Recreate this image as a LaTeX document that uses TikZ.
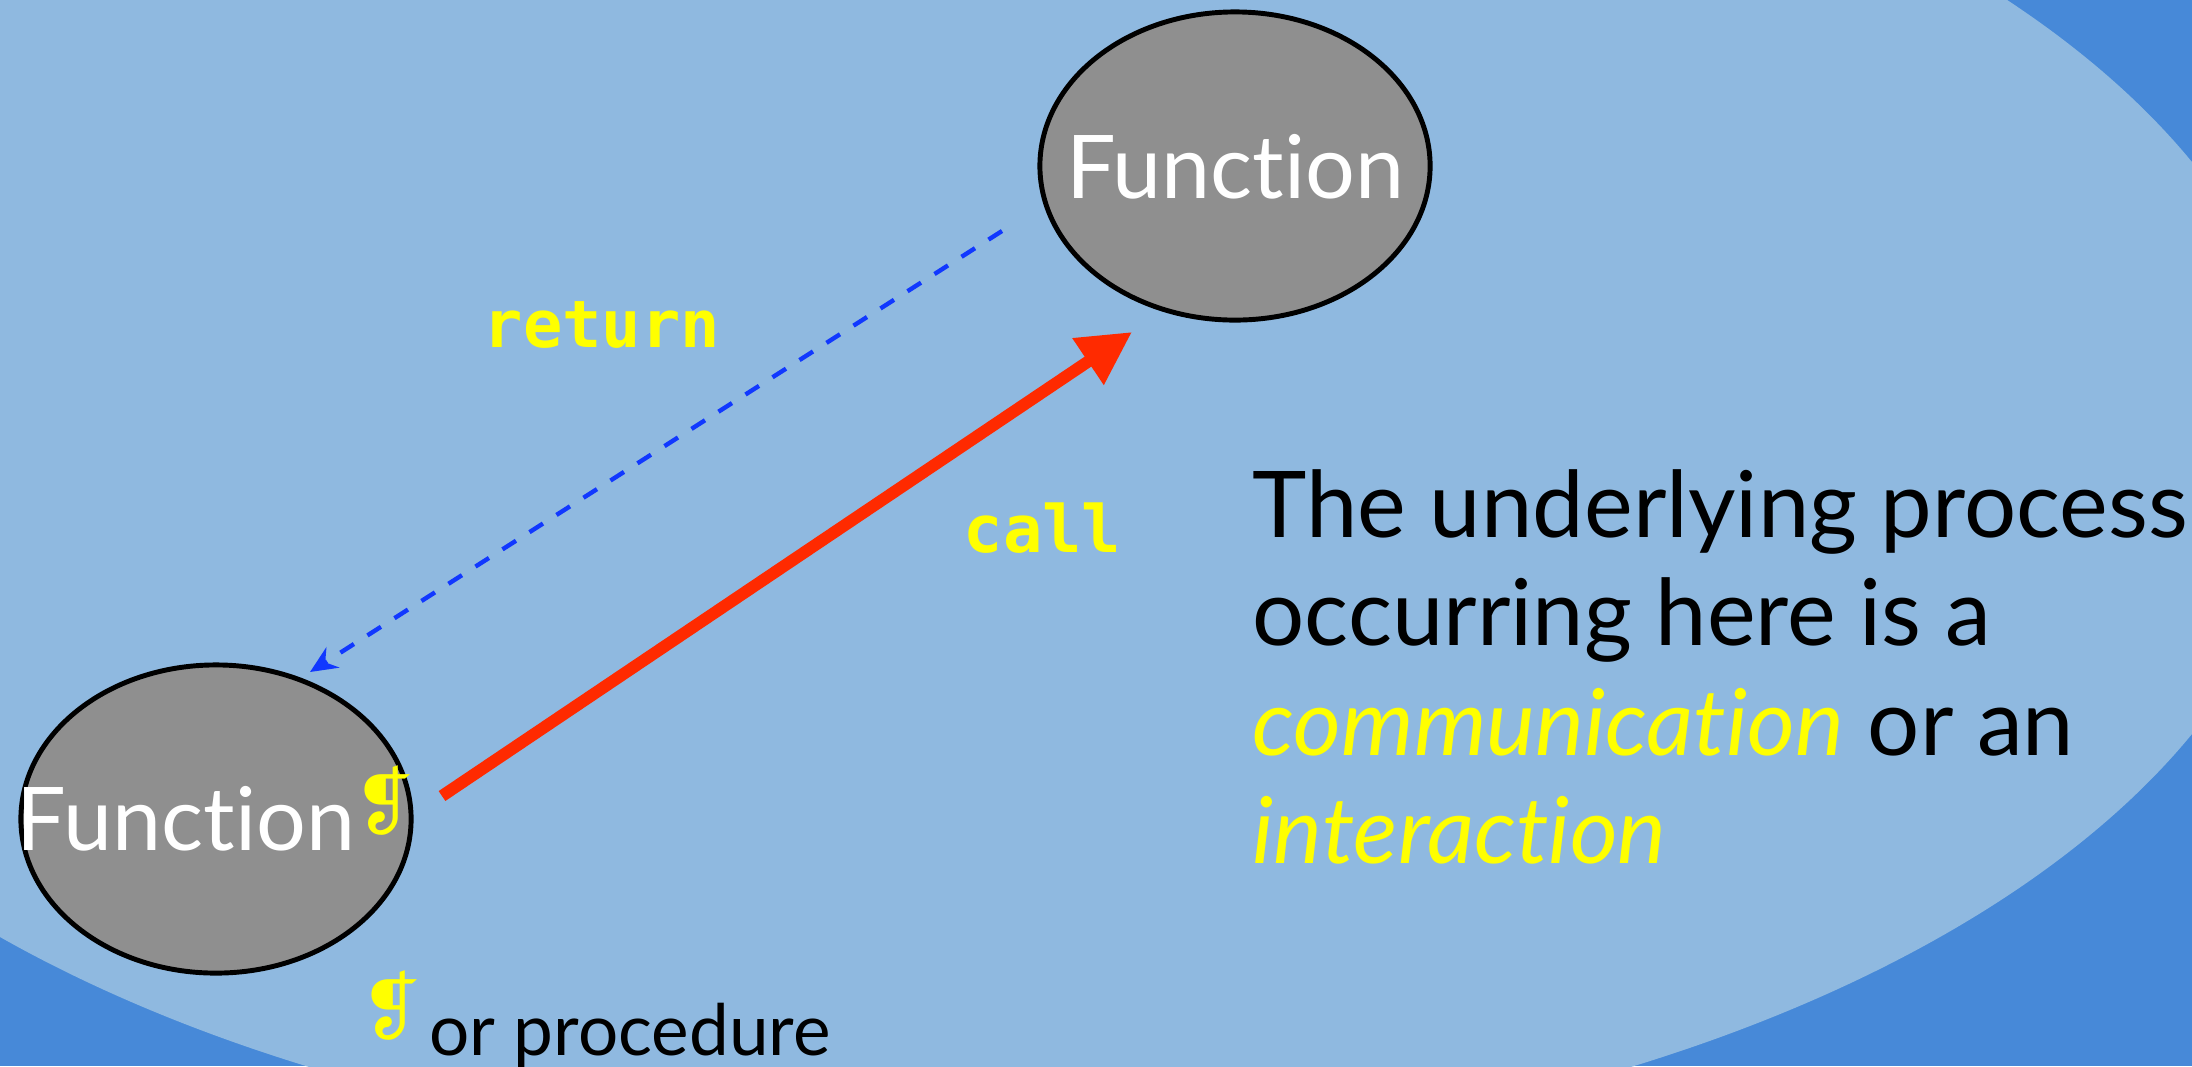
\documentclass[tikz,border=0pt]{standalone}
\usepackage{fontspec}
\setmainfont{Lato}[Ligatures=NoCommon]
\newfontfamily\monofnt{DejaVu Sans Mono}
\newfontfamily\dingfnt{DejaVu Sans}
\usetikzlibrary{arrows.meta,shapes.geometric,calc}

\definecolor{bgdark}{RGB}{71,137,216}
\definecolor{bglight}{RGB}{143,185,224}
\definecolor{nodegray}{RGB}{143,143,143}
\definecolor{callred}{RGB}{255,42,0}
\definecolor{retblue}{RGB}{17,56,255}
\definecolor{hiyellow}{RGB}{255,255,0}

\newcommand\pilc{\raisebox{6pt}{\dingfnt\fontsize{21}{21}\selectfont\textcolor{hiyellow}{❡}}}

\begin{document}
\begin{tikzpicture}[x=0.01cm,y=-0.01cm,
  fnode/.style={ellipse, draw=black, line width=1.4pt, fill=nodegray,
    minimum width=3.9cm, minimum height=3.08cm, inner sep=0pt},
  fntext/.style={text=white, font=\fontsize{25}{30}\selectfont,
    inner sep=0pt, anchor=base},
  codelbl/.style={font=\monofnt\bfseries\fontsize{18.6}{20}\selectfont,
    text=hiyellow, inner sep=0pt, anchor=base west},
  bodytxt/.style={font=\fontsize{26.2}{30}\selectfont, text=black,
    inner sep=0pt, anchor=base west},
  notetxt/.style={font=\fontsize{20.2}{24}\selectfont, text=black,
    inner sep=0pt, anchor=base west},
  callarrow/.style={draw=callred, line width=3.4pt,
    -{Triangle[length=0.53cm,width=0.53cm]}},
  retarrow/.style={draw=retblue, line width=1.25pt,
    dash pattern=on 0.16cm off 0.16cm,
    -{Stealth[length=0.27cm,width=0.24cm,inset=0.09cm]}}
]
\useasboundingbox (0,0) rectangle (2192,1066);
\begin{scope}
  \clip (0,0) rectangle (2192,1066);
  \fill[bgdark] (0,0) rectangle (2192,1066);
  \fill[bglight] (970,448) ellipse [x radius=13.33cm, y radius=7.12cm];
\end{scope}

\node[fnode] (ft) at (1235,166) {};
\node[fnode] (fl) at (216,819) {};
\node[fntext] (ftt) at ($(ft)+(0,32)$) {Function};
\node[fntext] (flt) at ($(fl)+(0,31)$) {Function\kern-0.5pt\pilc};

\coordinate (cs) at ($(fl)+(226,-23)$);
\coordinate (ce) at ($(ft)+(-103,166)$);
\coordinate (rs) at ($(ft)+(-233,65)$);
\coordinate (re) at ($(fl)+(94,-147)$);

\draw[callarrow] (cs) -- (ce);
\draw[retarrow] (rs) -- (re);

\node[codelbl] (lret) at (483,347) {return};
\node[codelbl] (lcall) at (963,552) {call};

\node[bodytxt] (t1) at (1252,537) {The underlying process};
\node[bodytxt] (t2) at (1252,645) {occurring here is a};
\node[bodytxt] (t3) at (1252,755) {\textcolor{hiyellow}{\itshape communication} or an};
\node[bodytxt] (t4) at (1252,863) {\textcolor{hiyellow}{\itshape interaction}};

\node[notetxt] (note) at (360,1055) {\pilc\hspace{2pt}or procedure};
\end{tikzpicture}
\end{document}
